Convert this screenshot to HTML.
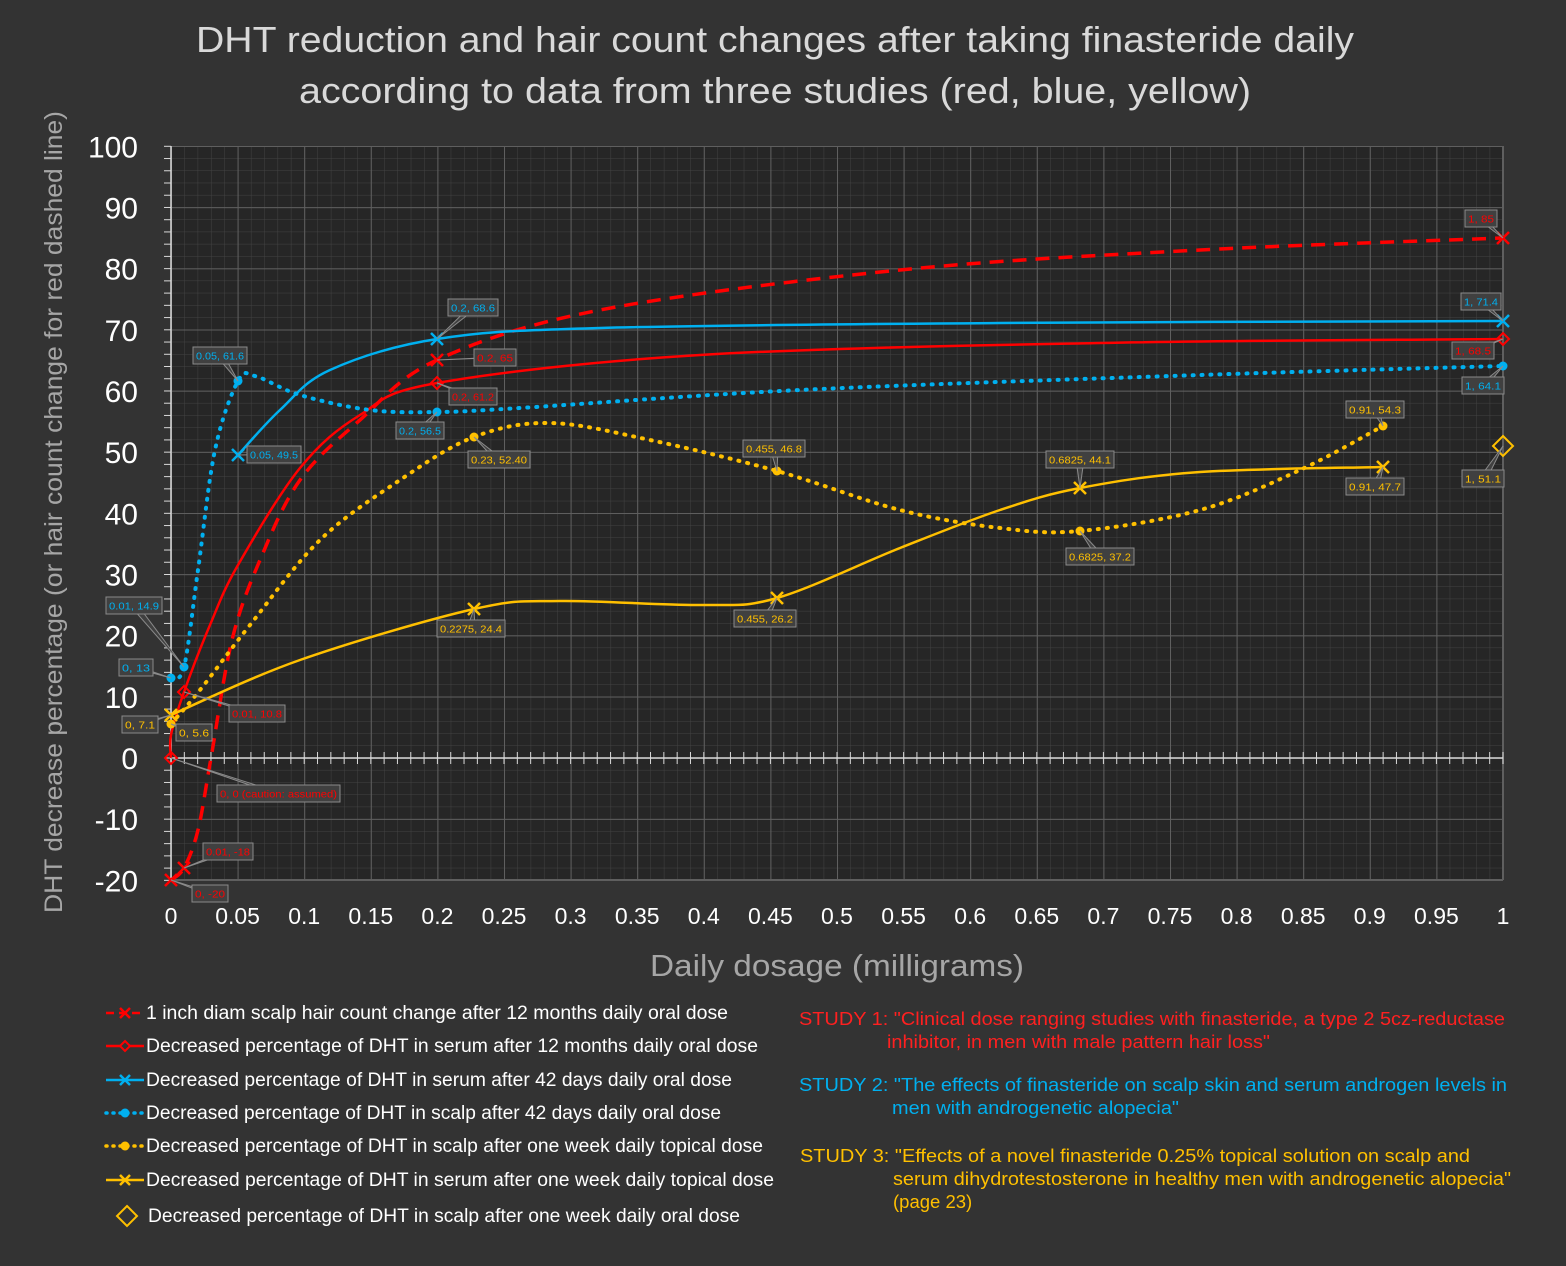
<!DOCTYPE html>
<html><head><meta charset="utf-8"><style>
html,body{margin:0;padding:0;background:#333333;}
svg{display:block;}
text{font-family:"Liberation Sans",sans-serif;}
</style></head><body>
<svg id="s" width="1566" height="1266" viewBox="0 0 1566 1266" xmlns="http://www.w3.org/2000/svg">
<defs>
<pattern id="minor" x="171" y="146" width="13.32" height="12.234" patternUnits="userSpaceOnUse">
<path d="M0 0V12.234M0 0H13.32" stroke="#434343" stroke-width="1" fill="none"/>
</pattern>
<pattern id="major" x="171" y="146" width="66.6" height="61.17" patternUnits="userSpaceOnUse">
<path d="M0 0V61.17M0 0H66.6" stroke="#5f5f5f" stroke-width="2" fill="none"/>
</pattern>
</defs>
<rect width="1566" height="1266" fill="#333333"/>
<rect x="171" y="146" width="1332" height="734" fill="#262626"/>
<rect x="171" y="146" width="1332" height="734" fill="url(#minor)"/>
<rect x="171" y="146" width="1332" height="734" fill="url(#major)"/>
<line x1="1503" y1="146" x2="1503" y2="880" stroke="#5f5f5f" stroke-width="2"/>
<line x1="171" y1="880" x2="1503" y2="880" stroke="#5f5f5f" stroke-width="2"/>
<g id="axes"></g>
<text x="775" y="52" font-size="36" fill="#d9d9d9" text-anchor="middle" textLength="1158" lengthAdjust="spacingAndGlyphs">DHT reduction and hair count changes after taking finasteride daily</text>
<text x="775" y="103" font-size="36" fill="#d9d9d9" text-anchor="middle" textLength="952" lengthAdjust="spacingAndGlyphs">according to data from three studies (red, blue, yellow)</text>
<text transform="translate(62,512) rotate(-90)" font-size="25" fill="#a6a6a6" text-anchor="middle" textLength="802" lengthAdjust="spacingAndGlyphs">DHT decrease  percentage (or hair count change for red dashed line)</text>
<text x="837" y="976" font-size="31" fill="#a6a6a6" text-anchor="middle" textLength="374" lengthAdjust="spacingAndGlyphs">Daily dosage (milligrams)</text>
<g id="ticks" font-size="30" fill="#ffffff"></g>
<g id="series" fill="none"></g>
<g id="labels" font-size="10.5"></g>
<g id="legend" font-size="19" fill="#ffffff"></g>
<g font-size="18.5">
<text x="799" y="1025" fill="#ff2020" textLength="706" lengthAdjust="spacingAndGlyphs">STUDY 1: "Clinical dose ranging studies with finasteride, a type 2 5cz-reductase</text>
<text x="887" y="1048" fill="#ff2020" textLength="383" lengthAdjust="spacingAndGlyphs">inhibitor, in men with male pattern hair loss"</text>
<text x="799" y="1091" fill="#00b0f0" textLength="708" lengthAdjust="spacingAndGlyphs">STUDY 2: "The effects of finasteride on scalp skin and serum androgen levels in</text>
<text x="892" y="1114" fill="#00b0f0" textLength="287" lengthAdjust="spacingAndGlyphs">men with androgenetic alopecia"</text>
<text x="800" y="1162" fill="#ffc000" textLength="670" lengthAdjust="spacingAndGlyphs">STUDY 3: "Effects of a novel finasteride 0.25% topical solution on scalp and</text>
<text x="893" y="1185" fill="#ffc000" textLength="618" lengthAdjust="spacingAndGlyphs">serum dihydrotestosterone in healthy men with androgenetic alopecia"</text>
<text x="893" y="1208" fill="#ffc000">(page 23)</text>
</g>
</svg>
<script>
var NS="http://www.w3.org/2000/svg";
function el(p,t,a,txt){var e=document.createElementNS(NS,t);for(var k in a)e.setAttribute(k,a[k]);if(txt!==undefined)e.textContent=txt;document.getElementById(p).appendChild(e);return e;}
function X(x){return 171+1332*x;}function Y(v){return 758-6.117*v;}
el("axes","line",{x1:171,y1:146,x2:171,y2:880,stroke:"#d9d9d9","stroke-width":1.5});
el("axes","line",{x1:171,y1:758,x2:1503,y2:758,stroke:"#d9d9d9","stroke-width":1.5});
for(var i=0;i<=100;i++){var x=X(i/100);el("axes","line",{x1:x,y1:752,x2:x,y2:764,stroke:"#d9d9d9","stroke-width":1});}
for(var v=-20;v<=100;v+=2){var y=Y(v);el("axes","line",{x1:164,y1:y,x2:171,y2:y,stroke:"#d9d9d9","stroke-width":1});}
for(var v=-20;v<=100;v+=10){el("ticks","text",{x:138,y:Y(v)+11,"text-anchor":"end"},String(v));}
for(var i=0;i<=20;i++){var xv=i*0.05;var s=(Math.round(xv*100)/100).toString();el("ticks","text",{x:X(xv),y:924,"text-anchor":"middle","font-size":23},s);}
function cr(p){var d="M"+p[0][0]+" "+p[0][1];for(var i=0;i<p.length-1;i++){var p0=p[i-1]||p[i],p1=p[i],p2=p[i+1],p3=p[i+2]||p2;var t=6;d+=" C"+(p1[0]+(p2[0]-p0[0])/t)+" "+(p1[1]+(p2[1]-p0[1])/t)+" "+(p2[0]-(p3[0]-p1[0])/t)+" "+(p2[1]-(p3[1]-p1[1])/t)+" "+p2[0]+" "+p2[1];}return d;}
var R="#ff0000",B="#00b0f0",Yc="#ffc000";
var S=[
 {c:R,d:"14 9",w:3.5,p:[[171,880],[184,868],[198,830],[211,758],[232,640],[260,560],[300,480],[360,420],[437,360],[600,310],[900,270],[1200,250],[1503,238]]},
 {c:R,w:2.5,p:[[171,758],[171,735],[184,692],[210,625],[238,565],[300,468],[360,415],[437,383],[700,355],[1100,343],[1503,339]]},
 {c:B,w:2.5,p:[[238,455],[280,410],[330,370],[437,339],[600,328],[1000,323],[1503,321]]},
 {c:B,d:"1 8",w:4,cap:"round",p:[[171,678],[184,667],[198,570],[215,450],[238,381],[255,376],[300,395],[370,410],[437,412],[520,408],[800,390],[1200,375],[1503,366]]},
 {c:Yc,d:"1 8",w:4,cap:"round",p:[[171,724],[200,690],[250,625],[320,540],[400,480],[474,437],[550,423],[650,440],[777,471],[900,510],[1000,528],[1080,531],[1200,510],[1300,470],[1383,426]]},
 {c:Yc,w:2.5,p:[[171,715],[300,660],[474,609],[560,601],[700,605],[777,598],[900,548],[1000,510],[1080,488],[1200,472],[1383,467]]}
];
S.forEach(function(s){var a={d:cr(s.p),stroke:s.c,"stroke-width":s.w};if(s.d)a["stroke-dasharray"]=s.d;if(s.cap)a["stroke-linecap"]=s.cap;el("series","path",a);});
function mx(x,y,c){el("series","path",{d:"M"+(x-6)+" "+(y-6)+"L"+(x+6)+" "+(y+6)+"M"+(x+6)+" "+(y-6)+"L"+(x-6)+" "+(y+6),stroke:c,"stroke-width":2.5});}
function md(x,y,c,r){r=r||6;el("series","path",{d:"M"+x+" "+(y-r)+"L"+(x+r)+" "+y+"L"+x+" "+(y+r)+"L"+(x-r)+" "+y+"Z",stroke:c,"stroke-width":2,fill:"none"});}
function mc(x,y,c){el("series","circle",{cx:x,cy:y,r:4.5,fill:c});}
mx(171,880,R);mx(184,868,R);mx(437,360,R);mx(1503,238,R);
md(171,758,R);md(184,692,R);md(437,383,R);md(1503,339,R);
mx(238,455,B);mx(437,339,B);mx(1503,321,B);
mc(171,678,B);mc(184,667,B);mc(238,381,B);mc(437,412,B);mc(1503,366,B);
mc(171,724,Yc);mc(474,437,Yc);mc(777,471,Yc);mc(1080,531,Yc);mc(1383,426,Yc);
mx(171,715,Yc);mx(474,609,Yc);mx(777,598,Yc);mx(1080,488,Yc);mx(1383,467,Yc);
md(1503,446,Yc,10);
var L=[["1, 85",1465,210,32,R,1503,238],["1, 71.4",1461,293,40,B,1503,321],["1, 68.5",1452,342,42,R,1503,339],["1, 64.1",1462,377,42,B,1503,366],
["0.91, 54.3",1346,401,58,Yc,1383,426],["0.91, 47.7",1346,478,58,Yc,1383,467],["1, 51.1",1462,470,42,Yc,1503,446],
["0.2, 68.6",448,299,50,B,437,339],["0.05, 61.6",193,347,54,B,238,381],["0.2, 65",474,349,42,R,437,360],["0.2, 61.2",449,388,48,R,437,383],
["0.2, 56.5",396,422,48,B,437,412],["0.05, 49.5",247,446,54,B,238,455],["0.23, 52.40",468,451,62,Yc,474,437],["0.455, 46.8",743,440,62,Yc,777,471],
["0.6825, 44.1",1046,451,68,Yc,1080,488],["0.6825, 37.2",1066,548,68,Yc,1080,531],["0.455, 26.2",734,610,62,Yc,777,598],["0.2275, 24.4",437,620,68,Yc,474,609],
["0.01, 14.9",106,597,56,B,184,667],["0, 13",119,659,34,B,171,678],["0, 7.1",122,716,36,Yc,171,715],["0, 5.6",176,724,36,Yc,171,724],
["0.01, 10.8",229,705,56,R,184,692],["0, 0 (caution: assumed)",217,785,123,R,171,758],["0.01, -18",203,843,50,R,184,868],["0, -20",192,885,36,R,171,880]];
L.forEach(function(l){var cx=l[1]+l[3]/2,cy=l[2]+8.5;
 el("labels","polygon",{points:l[5]+","+l[6]+" "+(cx-4)+","+cy+" "+(cx+4)+","+cy,fill:"#404040",stroke:"#8a8a8a","stroke-width":1});
 el("labels","rect",{x:l[1],y:l[2],width:l[3],height:17,fill:"#404040",stroke:"#8a8a8a","stroke-width":1});
 el("labels","text",{x:cx,y:l[2]+12.5,fill:l[4],"text-anchor":"middle",textLength:l[3]-6,lengthAdjust:"spacingAndGlyphs"},l[0]);});
var G=[["1 inch diam scalp hair count change after 12 months daily oral dose",1013,R,"dash","x",582],
["Decreased percentage of DHT in serum after 12 months daily oral dose",1046,R,"","d",612],
["Decreased percentage of DHT in serum after 42 days daily oral dose",1080,B,"","x",586],
["Decreased percentage of DHT in scalp after 42 days daily oral dose",1113,B,"dot","c",575],
["Decreased percentage of DHT in scalp after one week daily topical dose",1146,Yc,"dot","c",617],
["Decreased percentage of DHT in serum after one week daily topical dose",1180,Yc,"","x",628],
["Decreased percentage of DHT in scalp after one week daily oral dose",1216,Yc,"none","d2",592]];
G.forEach(function(g){var y=g[1];
 if(g[3]!=="none"){var a={x1:106,y1:y,x2:144,y2:y,stroke:g[2],"stroke-width":g[3]=="dot"?3.5:2.5};if(g[3]=="dash")a["stroke-dasharray"]="8 5";if(g[3]=="dot"){a["stroke-dasharray"]="1 6";a["stroke-linecap"]="round";}el("legend","line",a);}
 if(g[4]=="x"){el("legend","path",{d:"M120 "+(y-5)+"L130 "+(y+5)+"M130 "+(y-5)+"L120 "+(y+5),stroke:g[2],"stroke-width":2.5});}
 if(g[4]=="d"){el("legend","path",{d:"M125 "+(y-5)+"L130 "+y+"L125 "+(y+5)+"L120 "+y+"Z",stroke:g[2],"stroke-width":2,fill:"#333"});}
 if(g[4]=="c"){el("legend","circle",{cx:125,cy:y,r:4.5,fill:g[2]});}
 if(g[4]=="d2"){el("legend","path",{d:"M127 "+(y-10)+"L137 "+y+"L127 "+(y+10)+"L117 "+y+"Z",stroke:g[2],"stroke-width":2,fill:"none"});}
 el("legend","text",{x:g[4]=="d2"?148:146,y:y+6,textLength:g[5],lengthAdjust:"spacingAndGlyphs"},g[0]);});
</script>
</body></html>
